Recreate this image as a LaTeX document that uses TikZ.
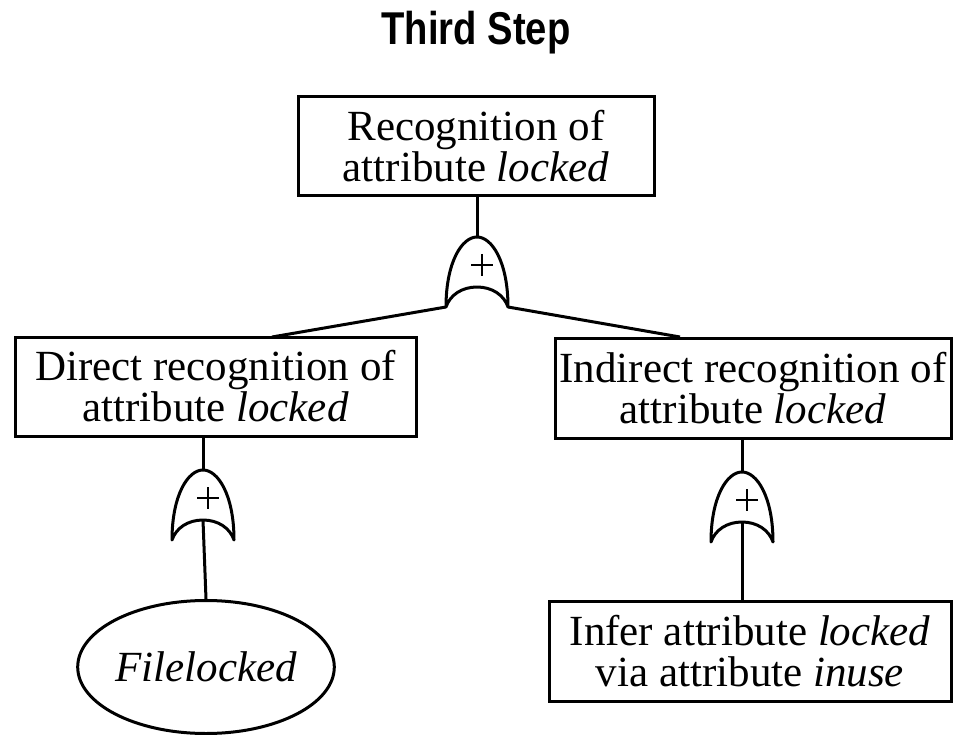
\documentclass[tikz,border=0pt]{standalone}
\usepackage{fontspec}
\setmainfont{Liberation Serif}
\newfontfamily\titlefont{Liberation Sans}
\usetikzlibrary{shapes.geometric}
\tikzset{
  ln/.style={line width=3pt},
  txtbox/.style={draw, line width=3pt, inner sep=0pt, align=center,
    font=\fontsize{43}{41}\selectfont},
  evt/.style={draw, ellipse, line width=3pt, inner sep=0pt,
    font=\fontsize{43}{41}\selectfont\itshape},
  orgate/.pic={
    \draw[line width=3pt, line join=round]
      (-31,70) .. controls (-31,25) and (-15,0) .. (0,0)
      .. controls (15,0) and (31,25) .. (31,70)
      .. controls (27,58) and (15,50) .. (0,50)
      .. controls (-15,50) and (-27,58) .. cycle;
    \draw[line width=1.8pt] (-6,28) -- (16,28) (5,17) -- (5,39);
    \coordinate (-top) at (0,0);
    \coordinate (-in) at (0,50);
    \coordinate (-l) at (-31,70);
    \coordinate (-r) at (31,70);
  }
}
\begin{document}
\begin{tikzpicture}[x=1pt,y=-1pt]
\useasboundingbox (0,0) rectangle (953,735);
\node[font=\titlefont\bfseries\fontsize{46}{46}\selectfont, xscale=0.83,
  transform shape, anchor=base, inner sep=0pt] (title) at (476,45) {Third Step};

\node[txtbox, minimum width=356pt, minimum height=99pt] (top) at (476,146.5)
  {Recognition of\\attribute \textit{locked}};
\pic (g1) at (477,237) {orgate};

\node[txtbox, minimum width=401pt, minimum height=99pt] (lbox) at (215.5,386.5)
  {Direct recognition of\\attribute \textit{locked}};
\node[txtbox, minimum width=396pt, minimum height=100pt] (rbox) at (753,388)
  {Indirect recognition of\\attribute \textit{locked}};

\pic (g2) at (203,470) {orgate};
\pic (g3) at (742,472) {orgate};

\node[evt, minimum width=238pt, minimum height=133pt] (file) at (206,667) {Filelocked};
\node[txtbox, minimum width=402pt, minimum height=100pt] (inf) at (750,651)
  {Infer attribute \textit{locked}\\via attribute \textit{inuse}};

\coordinate (lj) at (272,337);
\coordinate (rj) at (680,337);

\draw[ln] (top.south -| g1-top) -- (g1-top);
\draw[ln] (g1-l) -- (lj);
\draw[ln] (g1-r) -- (rj);
\draw[ln] (g2-top |- lbox.south) -- (g2-top);
\draw[ln] (g2-in) -- (file.north);
\draw[ln] (g3-top |- rbox.south) -- (g3-top);
\draw[ln] (g3-in) -- (g3-in |- inf.north);
\end{tikzpicture}
\end{document}
